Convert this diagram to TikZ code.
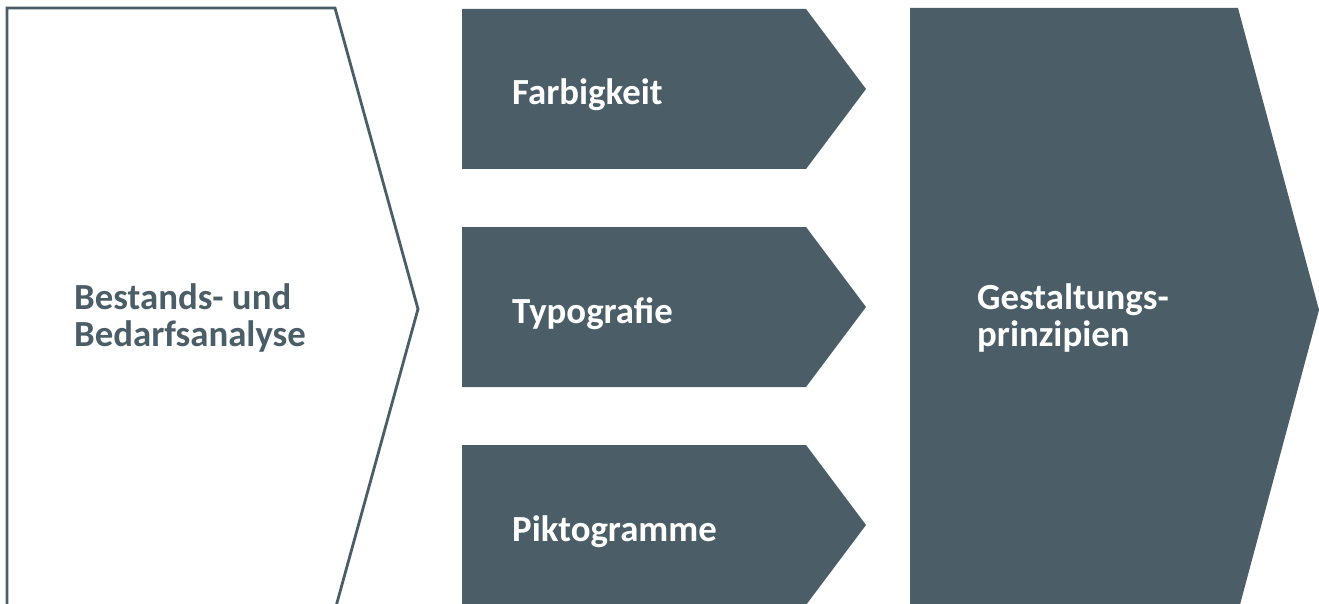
\documentclass[tikz,border=0pt]{standalone}
\usepackage{fontspec}
\setmainfont{Carlito}
\definecolor{slate}{HTML}{4B5E68}
\begin{document}
\begin{tikzpicture}[x=1pt,y=-1pt,
  chev/.style={fill=slate,draw=none},
  outl/.style={draw=slate,line width=2.8pt,fill=white,line join=miter},
  lbl/.style={font=\fontsize{36.8}{37}\selectfont\bfseries,inner sep=0pt,anchor=base west,align=left},
  wlbl/.style={lbl,text=white},
  dlbl/.style={lbl,text=slate}]
\useasboundingbox (0,0) rectangle (1319,604);
\clip (0,0) rectangle (1319,604);
\fill[white] (0,0) rectangle (1319,604);
% left outlined chevron
\draw[outl] (7,8) -- (335,8) -- (418,309) -- (335,610) -- (7,610) -- cycle;
% middle chevrons
\fill[chev] (462,9) -- (806,9) -- (866,89) -- (806,169) -- (462,169) -- cycle;
\fill[chev] (462,227) -- (806,227) -- (866,307) -- (806,387) -- (462,387) -- cycle;
\fill[chev] (462,445) -- (806,445) -- (866,525) -- (806,605) -- (462,605) -- cycle;
% right chevron
\fill[chev] (910,8) -- (1238,8) -- (1319,310) -- (1238,612) -- (910,612) -- cycle;
% labels
\node[dlbl] (ba1) at (74,309) {Bestands- und};
\node[dlbl] (ba2) at (74,346) {Bedarfsanalyse};
\node[wlbl] (farb) at (512,105) {Farbigkeit};
\node[wlbl] (typo) at (512,323) {Typografie};
\node[wlbl] (pikt) at (512,541) {Piktogramme};
\node[wlbl] (ge1) at (977,309) {Gestaltungs-};
\node[wlbl] (ge2) at (977,346) {prinzipien};
\end{tikzpicture}
\end{document}
